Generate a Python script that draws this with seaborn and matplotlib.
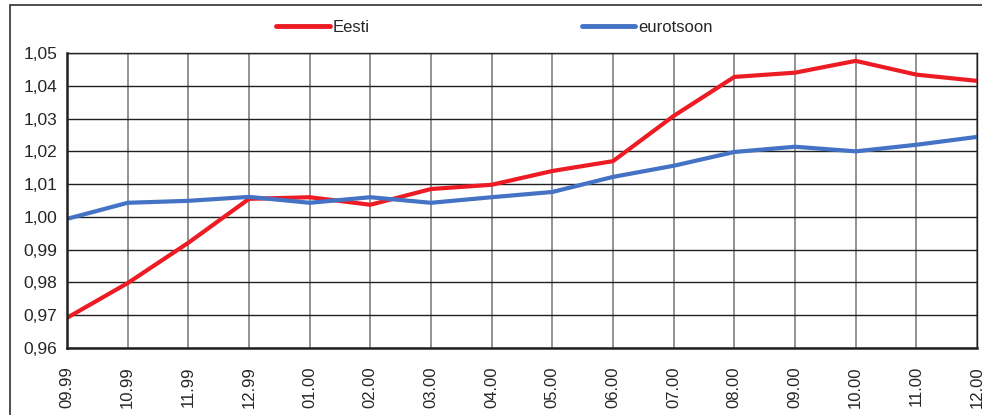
import pandas as pd
import matplotlib
matplotlib.use('Agg')
import matplotlib.pyplot as plt
import seaborn as sns
from matplotlib.patches import Rectangle
from matplotlib.ticker import FuncFormatter

months = ['09.99', '10.99', '11.99', '12.99', '01.00', '02.00', '03.00', '04.00',
          '05.00', '06.00', '07.00', '08.00', '09.00', '10.00', '11.00', '12.00']
eesti = [0.9692, 0.9798, 0.9921, 1.0055, 1.0060, 1.0037, 1.0085, 1.0098,
         1.0140, 1.0170, 1.0308, 1.0427, 1.0440, 1.0476, 1.0434, 1.0415]
eurotsoon = [0.9994, 1.0043, 1.0049, 1.0061, 1.0043, 1.0060, 1.0043, 1.0060,
             1.0076, 1.0122, 1.0156, 1.0198, 1.0214, 1.0200, 1.0220, 1.0244]

df = pd.DataFrame({'kuu': list(range(len(months))) * 2,
                   'indeks': eesti + eurotsoon,
                   'seeria': ['Eesti'] * len(months) + ['eurotsoon'] * len(months)})

palette = {'Eesti': '#ED1C24', 'eurotsoon': '#4472C4'}

sns.set_style('white')
plt.rcParams['font.family'] = ['Liberation Sans', 'DejaVu Sans']

fig = plt.figure(figsize=(9.82, 4.15), dpi=100)
ax = fig.add_axes([67 / 982, 1 - 348 / 415, (977 - 67) / 982, (348 - 53) / 415])

sns.lineplot(data=df, x='kuu', y='indeks', hue='seeria', palette=palette,
             linewidth=3, ax=ax, legend=True)

ax.set_xlim(0, len(months) - 1)
ax.set_ylim(0.96, 1.05)
ax.set_yticks([0.96 + 0.01 * i for i in range(10)])
ax.yaxis.set_major_formatter(FuncFormatter(lambda v, p: f'{v:.2f}'.replace('.', ',')))
ax.set_xticks(range(len(months)))
ax.set_xticklabels(months, rotation=90, fontsize=12)
ax.tick_params(axis='y', labelsize=12.5, length=5, width=1, color='#808080', pad=2)
ax.tick_params(axis='x', length=0, pad=13)
ax.set_xlabel('')
ax.set_ylabel('')

ax.grid(axis='y', color='#202020', linewidth=1)
ax.grid(axis='x', color='#808080', linewidth=1.2)
for s in ax.spines.values():
    s.set_color('#202020')
    s.set_linewidth(1)
ax.spines['left'].set_linewidth(1.8)
ax.spines['bottom'].set_linewidth(1.8)

leg = ax.legend(loc='center', bbox_to_anchor=(0.47, 1 + 26 / 295), ncol=2, frameon=False,
                fontsize=12, handlelength=3.2, handletextpad=0.2, columnspacing=12.7)
for line in leg.get_lines():
    line.set_linewidth(3.5)

fig.patches.append(Rectangle((10 / 982, -0.1), 1.2, 1.1 - 5 / 415, transform=fig.transFigure,
                             fill=False, edgecolor='#303030', linewidth=1.2))

fig.savefig('out.png', dpi=100)
